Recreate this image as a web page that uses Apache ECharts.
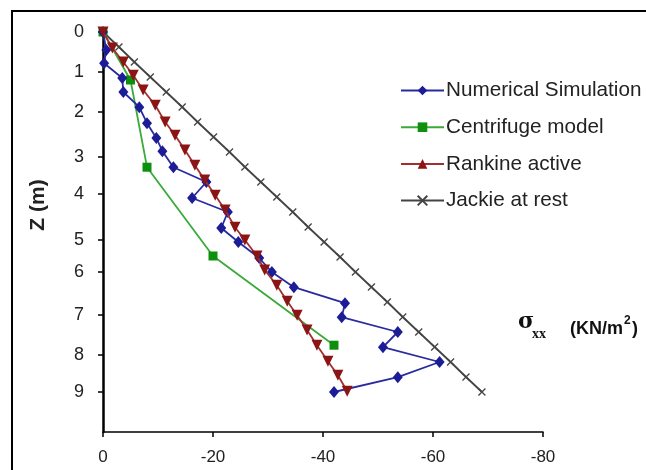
<!DOCTYPE html>
<html>
<head>
<meta charset="utf-8">
<script src="https://cdn.jsdelivr.net/npm/echarts@6/dist/echarts.min.js"></script>
<style>
html,body{margin:0;padding:0;background:#fff;}
#chart{width:646px;height:470px;}
</style>
</head>
<body>
<div id="chart"></div>
<script>
// ---- data ----
const seriesNames = ['Numerical Simulation', 'Centrifuge model', 'Rankine active', 'Jackie at rest'];

// Numerical Simulation
const numStress = [0, -0.6, -0.2, -3.5, -3.7, -6.6, -8.0, -9.7, -10.8, -12.8, -18.8, -16.2, -22.7, -21.5, -24.6, -28.4, -30.7, -34.7, -44.0, -43.4, -53.6, -50.9, -61.2, -53.6, -42.0];
const numDepth  = [0, 0.45, 0.78, 1.15, 1.5, 1.88, 2.28, 2.65, 2.98, 3.38, 3.75, 4.15, 4.5, 4.9, 5.25, 5.65, 6.0, 6.38, 6.78, 7.13, 7.5, 7.88, 8.25, 8.63, 9.0];

// Centrifuge model
const cenStress = [0, -5.0, -8.0, -20.0, -42.0];
const cenDepth  = [0, 1.2, 3.38, 5.6, 7.83];

// Rankine active
const rankStress = [0, -1.7, -3.7, -5.5, -7.3, -9.5, -11.3, -13.1, -14.9, -16.7, -18.5, -20.4, -22.2, -24.0, -25.8, -28.0, -29.4, -31.6, -33.5, -35.3, -37.1, -38.9, -40.9, -42.7, -44.4];
const rankDepth  = [0, 0.4, 0.75, 1.08, 1.45, 1.83, 2.25, 2.58, 2.95, 3.33, 3.7, 4.08, 4.45, 4.88, 5.2, 5.6, 5.95, 6.33, 6.73, 7.08, 7.45, 7.83, 8.23, 8.58, 8.98];

// Jackie at rest
const jackStress = [0, -2.9, -5.7, -8.6, -11.5, -14.4, -17.2, -20.1, -23.0, -25.8, -28.7, -31.6, -34.5, -37.3, -40.2, -43.1, -45.9, -48.8, -51.7, -54.5, -57.4, -60.3, -63.2, -66.0, -68.9];
const jackDepth  = [0, 0.375, 0.75, 1.125, 1.5, 1.875, 2.25, 2.625, 3.0, 3.375, 3.75, 4.125, 4.5, 4.875, 5.25, 5.625, 6.0, 6.375, 6.75, 7.125, 7.5, 7.875, 8.25, 8.625, 9.0];

// y-axis tick labels and where they sit
const yTickLabels = ['0', '1', '2', '3', '4', '5', '6', '7', '8', '9'];
const yTickValues = [0, 1.0, 2.0, 3.12, 4.05, 5.2, 6.0, 7.08, 8.08, 9.0];

// x-axis range
const xMin = -80, xMax = 0, xStep = 20;

function pairs(xs, ys) { return xs.map((x, i) => [x, ys[i]]); }

const chart = echarts.init(document.getElementById('chart'), null, {renderer: 'canvas'});
const FONT = '"Liberation Sans", Arial, sans-serif';

chart.setOption({
  animation: false,
  backgroundColor: '#ffffff',
  grid: {left: 103, right: 103, top: 32, bottom: 38, containLabel: false},
  legend: {
    orient: 'vertical',
    left: 400,
    top: 80,
    padding: 0,
    itemWidth: 43,
    itemHeight: 12,
    itemGap: 15.7,
    selectedMode: false,
    symbolRotate: 0,
    textStyle: {fontFamily: FONT, fontSize: 20.7, color: '#222', lineHeight: 18, padding: [0, 0, 0, -3]},
    data: seriesNames
  },
  xAxis: {
    type: 'value',
    min: xMin, max: xMax, interval: xStep,
    inverse: true,
    splitLine: {show: false},
    axisLine: {show: true, onZero: false, lineStyle: {color: '#000', width: 1.5}},
    axisTick: {show: true, length: 5, lineStyle: {color: '#000', width: 1.5}},
    axisLabel: {fontFamily: FONT, fontSize: 17, color: '#222', margin: 17}
  },
  yAxis: {
    type: 'value',
    min: 0, max: 10,
    inverse: true,
    splitLine: {show: false},
    axisLine: {show: true, onZero: false, lineStyle: {color: '#000', width: 2.5}},
    axisTick: {show: true, length: 5, customValues: yTickValues, lineStyle: {color: '#000', width: 1.5}},
    axisLabel: {
      fontFamily: FONT, fontSize: 18, color: '#222', margin: 19,
      customValues: yTickValues,
      formatter: function (v) {
        let best = 0, bd = Infinity;
        yTickValues.forEach((t, i) => { const d = Math.abs(t - v); if (d < bd) { bd = d; best = i; } });
        return yTickLabels[best];
      }
    }
  },
  series: [
    {
      name: seriesNames[0], type: 'line', data: pairs(numStress, numDepth),
      symbol: 'diamond', symbolSize: [10, 12],
      itemStyle: {color: '#1c1c96'},
      lineStyle: {color: '#2a2aa0', width: 1.8},
      z: 4
    },
    {
      name: seriesNames[1], type: 'line', data: pairs(cenStress, cenDepth),
      symbol: 'rect', symbolSize: 9,
      itemStyle: {color: '#0e8f0e'},
      lineStyle: {color: '#3aaa3a', width: 1.8},
      z: 3
    },
    {
      name: seriesNames[2], type: 'line', data: pairs(rankStress, rankDepth),
      symbol: 'triangle', symbolSize: 11, symbolRotate: 180,
      itemStyle: {color: '#8b1515'},
      lineStyle: {color: '#a03030', width: 1.8},
      z: 5
    },
    {
      name: seriesNames[3], type: 'line', data: pairs(jackStress, jackDepth),
      symbol: 'path://M0,0L10,10M10,0L0,10', symbolSize: 7,
      itemStyle: {color: 'rgba(0,0,0,0)', borderColor: '#444', borderWidth: 1.3},
      lineStyle: {color: '#444', width: 1.8},
      z: 2
    }
  ],
  graphic: [
    {type: 'rect', silent: true, z: 100, shape: {x: 12, y: 11, width: 700, height: 500},
     style: {fill: 'none', stroke: '#000', lineWidth: 2}},
    {type: 'text', silent: true, x: 38, y: 205, rotation: Math.PI / 2,
     style: {text: 'Z (m)', font: 'bold 21px ' + FONT, fill: '#222', textAlign: 'center', textVerticalAlign: 'middle'}},
    {type: 'text', silent: true, x: 518, y: 322,
     style: {text: 'σ', font: 'bold 22px "DejaVu Serif", "Liberation Serif", serif', fill: '#111', textAlign: 'left', textVerticalAlign: 'middle'}},
    {type: 'text', silent: true, x: 532, y: 334,
     style: {text: 'xx', font: 'bold 14px "Liberation Serif", serif', fill: '#111', textAlign: 'left', textVerticalAlign: 'middle'}},
    {type: 'text', silent: true, x: 570, y: 329,
     style: {text: '(KN/m', font: 'bold 18px ' + FONT, fill: '#111', textAlign: 'left', textVerticalAlign: 'middle'}},
    {type: 'text', silent: true, x: 624, y: 321,
     style: {text: '2', font: 'bold 12px ' + FONT, fill: '#111', textAlign: 'left', textVerticalAlign: 'middle'}},
    {type: 'text', silent: true, x: 632, y: 329,
     style: {text: ')', font: 'bold 18px ' + FONT, fill: '#111', textAlign: 'left', textVerticalAlign: 'middle'}}
  ]
});
</script>
</body>
</html>
